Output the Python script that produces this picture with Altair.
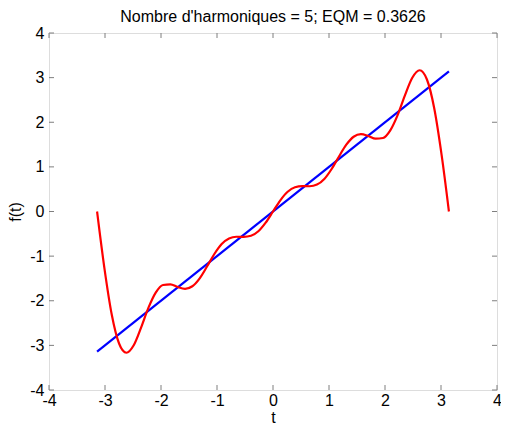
import altair as alt
import pandas as pd

t_vals = [-3.1416, -3.0107, -2.8798, -2.7489, -2.6180, -2.4871, -2.3562, -2.2253,
          -2.0944, -1.9635, -1.8326, -1.7017, -1.5708, -1.4399, -1.3090, -1.1781,
          -1.0472, -0.9163, -0.7854, -0.6545, -0.5236, -0.3927, -0.2618, -0.1309,
          0.0, 0.1309, 0.2618, 0.3927, 0.5236, 0.6545, 0.7854, 0.9163,
          1.0472, 1.1781, 1.3090, 1.4399, 1.5708, 1.7017, 1.8326, 1.9635,
          2.0944, 2.2253, 2.3562, 2.4871, 2.6180, 2.7489, 2.8798, 3.0107, 3.1416]
approx_vals = [0.0, -1.2685, -2.3084, -2.9580, -3.1657, -2.9972, -2.6028, -2.1612,
               -1.8187, -1.6467, -1.6310, -1.6931, -1.7333, -1.6755, -1.4970, -1.2325,
               -0.9526, -0.7293, -0.6028, -0.5653, -0.5676, -0.5437, -0.4424, -0.2509,
               0.0, 0.2509, 0.4424, 0.5437, 0.5676, 0.5653, 0.6028, 0.7293,
               0.9526, 1.2325, 1.4970, 1.6755, 1.7333, 1.6931, 1.6310, 1.6467,
               1.8187, 2.1612, 2.6028, 2.9972, 3.1657, 2.9580, 2.3084, 1.2685, 0.0]
line_t = [-3.1416, 3.1416]
line_f = [-3.1416, 3.1416]
tick_values = [-4, -3, -2, -1, 0, 1, 2, 3, 4]
title_text = "Nombre d'harmoniques = 5; EQM = 0.3626"

W, H = 448, 357
FONT = "Liberation Sans"
FS = 16
GRAY = "#7f7f7f"

approx_df = pd.DataFrame({"t": t_vals, "f": approx_vals})
line_df = pd.DataFrame({"t": line_t, "f": line_f})
ticks_df = pd.DataFrame({"v": tick_values})

xscale = alt.Scale(domain=[-4, 4], nice=False)
yscale = alt.Scale(domain=[-4, 4], nice=False)

x_axis = alt.Axis(values=tick_values, title="t", tickSize=0, labelPadding=2,
                  domain=False, grid=False, labelFont=FONT, labelFontSize=FS,
                  labelColor="black", titleFont=FONT, titleFontSize=FS,
                  titleFontWeight="normal", titleColor="black", titlePadding=1,
                  labelFlush=False, labelExpr="'' + datum.value")
y_axis = alt.Axis(values=tick_values, title="f(t)", tickSize=0, labelPadding=5,
                  domain=False, grid=False, labelFont=FONT, labelFontSize=FS,
                  labelColor="black", titleFont=FONT, titleFontSize=FS,
                  titleFontWeight="normal", titleColor="black", titlePadding=6,
                  labelFlush=False, labelExpr="'' + datum.value")

blue = alt.Chart(line_df).mark_line(color="#0000ff", strokeWidth=2.2, clip=True).encode(
    x=alt.X("t:Q", scale=xscale, axis=x_axis),
    y=alt.Y("f:Q", scale=yscale, axis=y_axis),
)
red = alt.Chart(approx_df).mark_line(color="#ff0000", strokeWidth=2.2, interpolate="monotone").encode(
    x=alt.X("t:Q", scale=xscale),
    y=alt.Y("f:Q", scale=yscale),
)

tb = alt.Chart(ticks_df).mark_rule(color=GRAY, strokeWidth=1)
xt_bottom = tb.encode(x=alt.X("v:Q", scale=xscale), y=alt.value(H), y2=alt.value(H - 5))
xt_top = tb.encode(x=alt.X("v:Q", scale=xscale), y=alt.value(0), y2=alt.value(5))
yt_left = tb.encode(y=alt.Y("v:Q", scale=yscale), x=alt.value(0), x2=alt.value(5))
yt_right = tb.encode(y=alt.Y("v:Q", scale=yscale), x=alt.value(W), x2=alt.value(W - 5))

chart = alt.layer(blue, red, xt_bottom, xt_top, yt_left, yt_right).properties(
    width=W, height=H,
    title=alt.TitleParams(title_text, font=FONT, fontSize=FS, fontWeight="normal",
                          color="black", offset=0),
    autosize=alt.AutoSizeParams(type="none"),
    padding={"left": 41, "top": 25, "right": 4, "bottom": 36},
).configure_view(stroke=GRAY, strokeWidth=1).configure(background="white")

chart.save("out.html", embed_options={"renderer": "svg", "actions": False})
